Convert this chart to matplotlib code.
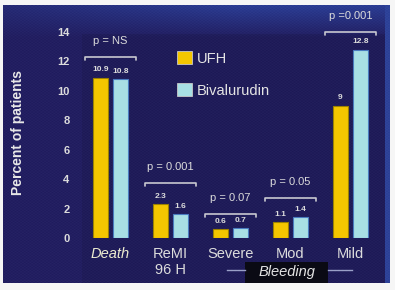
import numpy as np
import matplotlib.pyplot as plt
from matplotlib.patches import Patch, Rectangle

plt.rcParams['font.family'] = ['Liberation Sans', 'DejaVu Sans']

# data
categories = ['Death', 'ReMI\n96 H', 'Severe', 'Mod', 'Mild']
ufh = [10.9, 2.3, 0.6, 1.1, 9]
bival = [10.8, 1.6, 0.7, 1.4, 12.8]
ufh_txt = ['10.9', '2.3', '0.6', '1.1', '9']
bival_txt = ['10.8', '1.6', '0.7', '1.4', '12.8']
p_values = ['p = NS', 'p = 0.001', 'p = 0.07', 'p = 0.05', 'p =0.001']
yticks = [0, 2, 4, 6, 8, 10, 12, 14]

W, H = 395, 290
yellow = '#f4c600'
cyan = '#a8dfe4'
txtc = '#dcdcdc'

fig = plt.figure(figsize=(W / 100, H / 100), dpi=100, facecolor='#f6f6f6')

def px(x0, y0, x1, y1):
  # pixel box (from top-left) -> figure fraction rect
  return [x0 / W, 1 - y1 / H, (x1 - x0) / W, (y1 - y0) / H]

# slide background
bg = fig.add_axes(px(3, 5, 390, 283))
bg.set_axis_off()
ny, nx = 278, 387
yy, xx = np.mgrid[0:ny, 0:nx]
base = np.array([0.135, 0.12, 0.38])
top = np.array([0.17, 0.24, 0.58])
t = np.clip(1 - yy / 32.0, 0, 1)[..., None] * np.clip(0.4 + xx / nx, 0, 1)[..., None]
img = base * (1 - t) + top * t
panel = (xx > 78) & (xx < 382) & (yy > 28)
img[panel] = img[panel] * 0.92
right = xx > 381
img[right] = np.array([0.18, 0.26, 0.60])
rng_noise = (np.sin(xx * 1.7) * np.cos(yy * 2.3))[..., None] * 0.015
img = np.clip(img + rng_noise, 0, 1)
bg.imshow(img, aspect='auto', extent=(0, 1, 0, 1), interpolation='bilinear')

# main axes: group i at pixel 110.5 + 60*i, y 0 at 238px, 14 at 32px
ax = fig.add_axes(px(80, 32, 385, 238))
ax.patch.set_alpha(0)
x = np.arange(len(categories))
bw = 0.25
off = 0.167
ax.bar(x - off, ufh, bw, color=yellow, edgecolor='#9c8200', linewidth=0.8)
ax.bar(x + off, bival, bw, color=cyan, edgecolor='#4a7cc0', linewidth=0.8)
ax.set_xlim((80 - 110.5) / 60, (385 - 110.5) / 60)
ax.set_ylim(0, 14)
for s in ax.spines.values():
  s.set_visible(False)
ax.set_yticks(yticks)
ax.set_yticklabels([str(v) for v in yticks], color=txtc, fontsize=8, fontweight='bold')
ax.tick_params(axis='y', length=0, pad=7.5)
ax.set_xticks(x)
ax.set_xticklabels(categories, color=txtc, fontsize=10.5, linespacing=1.2)
ax.tick_params(axis='x', length=0, pad=6.5)
ax.get_xticklabels()[0].set_fontstyle('italic')
ax.get_xticklabels()[0].set_color('#ececd0')

fig.text(18 / W, 1 - 133 / H, 'Percent of patients', rotation=90, color='#e8e8e8',
         fontsize=10, fontweight='bold', ha='center', va='center')

# value labels
for i in range(len(categories)):
  ax.annotate(ufh_txt[i], (x[i] - off, ufh[i]), xytext=(0, 3), textcoords='offset points',
              ha='center', va='bottom', color=txtc, fontsize=6, fontweight='bold')
  ax.annotate(bival_txt[i], (x[i] + off, bival[i]), xytext=(0, 3), textcoords='offset points',
              ha='center', va='bottom', color=txtc, fontsize=6, fontweight='bold')

# p-value brackets
gaps = [1.4, 1.45, 0.95, 1.3, 1.2]
for i in range(len(categories)):
  yb = max(ufh[i], bival[i]) + gaps[i]
  x0, x1 = x[i] - 0.42, x[i] + 0.42
  ax.plot([x0, x0, x1, x1], [yb - 0.2, yb, yb, yb - 0.2], color='#c8c8d0', lw=1.2,
          clip_on=False, solid_capstyle='round')
  ax.text(x[i], yb + 1.1, p_values[i], ha='center', va='center', color=txtc,
          fontsize=8, clip_on=False)

# legend
handles = [Patch(facecolor=yellow, edgecolor='#c8c8c8', lw=0.6, label='UFH'),
           Patch(facecolor=cyan, edgecolor='#c8c8c8', lw=0.6, label='Bivalurudin')]
fig.legend(handles=handles, loc='upper left', bbox_to_anchor=(177 / W, 1 - 51 / H),
           frameon=False, fontsize=10.5, labelcolor='#e4e4e4', handlelength=1.03,
           handleheight=1.03, handletextpad=0.3, labelspacing=1.2, borderpad=0,
           borderaxespad=0)

# Bleeding label under the bleeding groups
fig.add_artist(Rectangle((245 / W, 1 - 283 / H), 83 / W, 21 / H, transform=fig.transFigure,
                         facecolor='#0a0a14', edgecolor='none'))
fig.add_artist(plt.Line2D([227 / W, 245 / W], [1 - 270 / H] * 2, color='#9aa0c8', lw=1))
fig.add_artist(plt.Line2D([328 / W, 352 / W], [1 - 270 / H] * 2, color='#9aa0c8', lw=1))
fig.text(286.5 / W, 1 - 272 / H, 'Bleeding', ha='center', va='center', color='#e4e4e4',
         fontsize=10.5, fontstyle='italic')

fig.savefig('out.png', dpi=100, facecolor=fig.get_facecolor())
